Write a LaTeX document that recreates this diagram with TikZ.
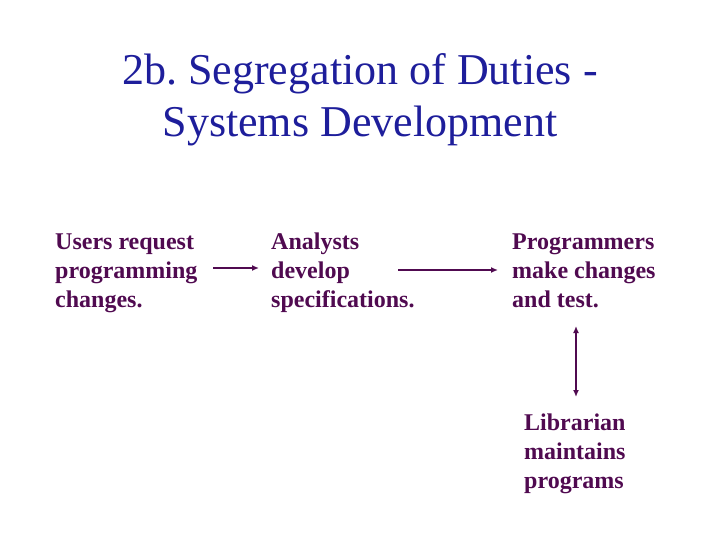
\documentclass[tikz,border=0pt]{standalone}
\usepackage{fontspec}
\setmainfont{Liberation Serif}
\usetikzlibrary{arrows.meta}
\frenchspacing
\definecolor{titleblue}{RGB}{30,30,155}
\definecolor{bodypurple}{RGB}{80,10,80}
\tikzset{
  titletext/.style={font=\fontsize{44}{52}\selectfont, text=titleblue, inner sep=0pt, align=center},
  bodytext/.style={font=\fontsize{24}{29}\selectfont\bfseries, text=bodypurple, inner sep=0pt, anchor=base west},
  flow/.style={draw=bodypurple, line width=2pt, -{Latex[length=7pt,width=6pt]}},
  twoway/.style={draw=bodypurple, line width=2pt, {Latex[length=7pt,width=6pt]}-{Latex[length=7pt,width=6pt]}}
}
\begin{document}
\frenchspacing
\begin{tikzpicture}[x=1pt,y=-1pt]
\useasboundingbox (0,0) rectangle (720,540);
\node[titletext, anchor=base] (t1) at (360,85) {2b. Segregation of Duties -};
\node[titletext, anchor=base] (t2) at (360,137) {Systems Development};
\node[bodytext] (users1) at (55,249) {Users request};
\node[bodytext] (users2) at (55,278) {programming};
\node[bodytext] (users3) at (55,307) {changes.};
\node[bodytext] (an1) at (271,249) {Analysts};
\node[bodytext] (an2) at (271,278) {develop};
\node[bodytext] (an3) at (271,307) {specifications.};
\node[bodytext] (pr1) at (512,249) {Programmers};
\node[bodytext] (pr2) at (512,278) {make changes};
\node[bodytext] (pr3) at (512,307) {and test.};
\node[bodytext] (lib1) at (524,430) {Librarian};
\node[bodytext] (lib2) at (524,459) {maintains};
\node[bodytext] (lib3) at (524,488) {programs};
\coordinate (a1s) at (213,268);
\coordinate (a1e) at (259,268);
\coordinate (a2s) at (398,270);
\coordinate (a2e) at (498,270);
\coordinate (v1) at (576,326);
\coordinate (v2) at (576,397);
\draw[flow] (a1s) -- (a1e);
\draw[flow] (a2s) -- (a2e);
\draw[twoway] (v1) -- (v2);
\end{tikzpicture}
\end{document}
